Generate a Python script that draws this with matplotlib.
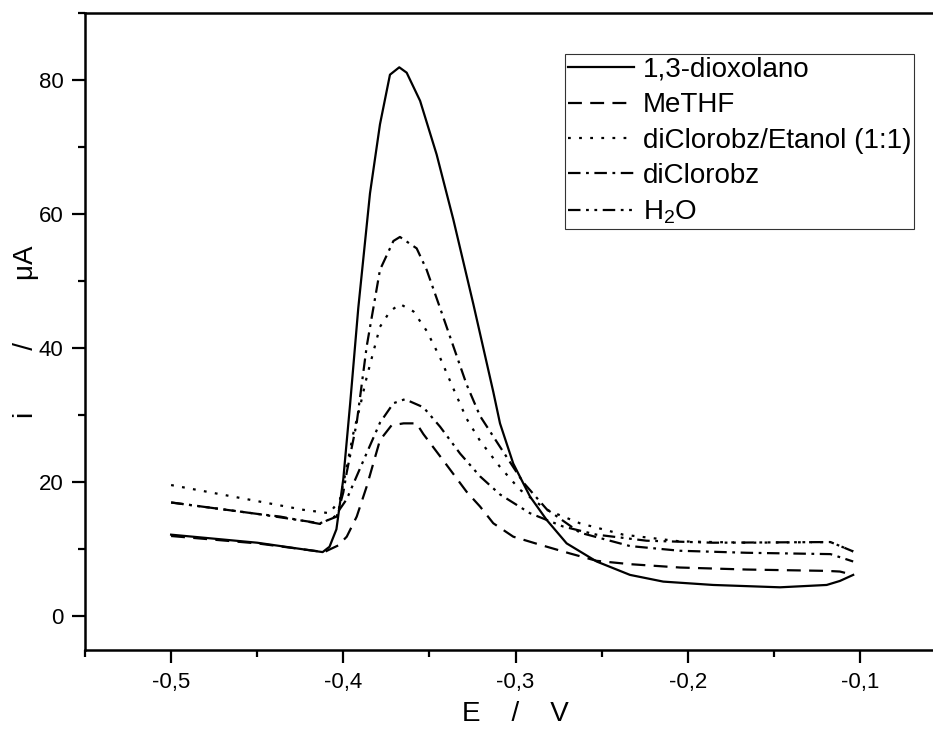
import numpy as np
import matplotlib
matplotlib.use("Agg")
import matplotlib.pyplot as plt
from matplotlib.ticker import MultipleLocator, FuncFormatter

plt.rcParams['font.family'] = ['Liberation Sans', 'DejaVu Sans']
plt.rcParams['mathtext.default'] = 'regular'
plt.rcParams['lines.scale_dashes'] = False

# series (E in V, i in uA)
x_diox = [-0.500, -0.450, -0.412, -0.408, -0.404, -0.400, -0.396, -0.3913, -0.3845, -0.3787,
          -0.3729, -0.3675, -0.3632, -0.3554, -0.3458, -0.3361, -0.3245, -0.3129, -0.309, -0.3013,
          -0.2916, -0.2819, -0.2703, -0.2529, -0.2335, -0.2142, -0.1852, -0.1464, -0.1193, -0.1116, -0.1039]
y_diox = [12.2, 11.0, 9.6, 10.4, 13.0, 20.5, 31.8, 46.0, 63.1, 73.4,
          80.8, 81.9, 81.1, 76.9, 68.9, 59.2, 46.6, 33.5, 28.8, 22.8,
          17.9, 14.4, 10.9, 8.2, 6.2, 5.2, 4.7, 4.35, 4.7, 5.3, 6.2]

x_methf = [-0.500, -0.450, -0.411, -0.4087, -0.4029, -0.398, -0.3922, -0.3864, -0.3787, -0.372,
           -0.365, -0.3575, -0.3535, -0.340, -0.3284, -0.3206, -0.3129, -0.3013, -0.2858, -0.2684,
           -0.2529, -0.2335, -0.2045, -0.1658, -0.1193, -0.1116, -0.1039]
y_methf = [12.0, 10.9, 9.6, 9.9, 10.6, 11.9, 14.9, 19.4, 26.3, 28.5,
           28.8, 28.8, 27.2, 22.6, 18.6, 16.4, 13.9, 11.9, 10.7, 9.4,
           8.3, 7.8, 7.3, 7.0, 6.8, 6.7, 6.2]

x_etanol = [-0.500, -0.452, -0.423, -0.408, -0.402, -0.398, -0.3942, -0.3903, -0.3864, -0.3787,
            -0.3729, -0.3671, -0.3593, -0.3516, -0.3438, -0.3361, -0.3284, -0.3206, -0.309, -0.2974,
            -0.2819, -0.2626, -0.2374, -0.2045, -0.1658, -0.1171, -0.1039]
y_etanol = [19.6, 17.3, 15.9, 15.4, 17.4, 22.3, 27.3, 31.3, 35.7, 43.2,
            45.5, 46.6, 45.5, 42.6, 38.6, 34.0, 29.5, 26.2, 22.3, 18.9,
            15.9, 13.9, 12.2, 11.2, 11.0, 11.1, 9.7]

x_dicl = [-0.500, -0.450, -0.4135, -0.4038, -0.400, -0.398, -0.3922, -0.3864, -0.3787, -0.3709,
          -0.3671, -0.3574, -0.3516, -0.3438, -0.3361, -0.3284, -0.3206, -0.309, -0.2955, -0.2819,
          -0.2626, -0.2335, -0.2045, -0.1658, -0.1171, -0.1039]
y_dicl = [17.0, 15.3, 13.9, 14.9, 18.5, 21.5, 28.9, 40.3, 51.7, 56.0,
          56.6, 54.9, 51.7, 46.0, 40.3, 34.6, 29.9, 25.3, 20.0, 16.0,
          12.5, 10.5, 9.8, 9.5, 9.3, 8.2]

x_h2o = [-0.500, -0.450, -0.4367, -0.4135, -0.405, -0.398, -0.3884, -0.3787, -0.3709, -0.3642,
         -0.3535, -0.3438, -0.3322, -0.3206, -0.309, -0.2916, -0.2722, -0.2529, -0.2239, -0.1852,
         -0.1171, -0.1039]
y_h2o = [17.0, 15.3, 14.9, 13.8, 14.9, 17.5, 23.2, 28.9, 31.8, 32.4,
         31.2, 28.3, 24.3, 20.9, 18.2, 15.4, 13.4, 12.2, 11.3, 11.0,
         11.1, 9.7]

labels = ['1,3-dioxolano', 'MeTHF', 'diClorobz/Etanol (1:1)', 'diClorobz', 'H$_2$O']

W, H = 933, 732
fig = plt.figure(figsize=(W / 100, H / 100), dpi=100)
ax = fig.add_axes([85 / W, 82 / H, 861 / W, 637 / H])

lw = 1.6
ax.plot(x_diox, y_diox, color='black', lw=lw, ls='-', label=labels[0])
ax.plot(x_methf, y_methf, color='black', lw=lw, ls=(0, (10, 6)), label=labels[1])
ax.plot(x_etanol, y_etanol, color='black', lw=lw, ls=(0, (2, 6)), label=labels[2])
ax.plot(x_dicl, y_dicl, color='black', lw=lw, ls=(0, (9, 4, 2, 4)), label=labels[3])
ax.plot(x_h2o, y_h2o, color='black', lw=lw, ls=(0, (9, 4, 2, 4, 2, 4)), label=labels[4])

ax.set_xlim(-0.55, -0.05)
ax.set_ylim(-5, 90)
ax.xaxis.set_major_locator(MultipleLocator(0.1))
ax.xaxis.set_minor_locator(MultipleLocator(0.05))
ax.yaxis.set_major_locator(MultipleLocator(20))
ax.yaxis.set_minor_locator(MultipleLocator(10))
ax.xaxis.set_major_formatter(FuncFormatter(lambda v, p: f"{v:.1f}".replace('.', ',')))

for s in ax.spines.values():
    s.set_linewidth(1.8)
ax.tick_params(which='major', direction='out', length=9.5, width=1.6, labelsize=16, pad=6,
               top=False, right=False)
ax.tick_params(which='minor', direction='out', length=5, width=1.6, top=False, right=False)

ax.set_xlabel('E    /    V', fontsize=20, labelpad=6)
ax.set_ylabel('i        /        \u03bcA', fontsize=20, labelpad=0)

leg = ax.legend(loc='upper left', bbox_to_anchor=(565 / W, 1 - 54 / H),
                bbox_transform=fig.transFigure, borderaxespad=0, fontsize=20,
                frameon=True, fancybox=False, handlelength=2.4, handletextpad=0.3,
                labelspacing=0.34, borderpad=0.1)
leg.get_frame().set_edgecolor('black')
leg.get_frame().set_linewidth(0.8)

fig.savefig('out.png', dpi=100)
